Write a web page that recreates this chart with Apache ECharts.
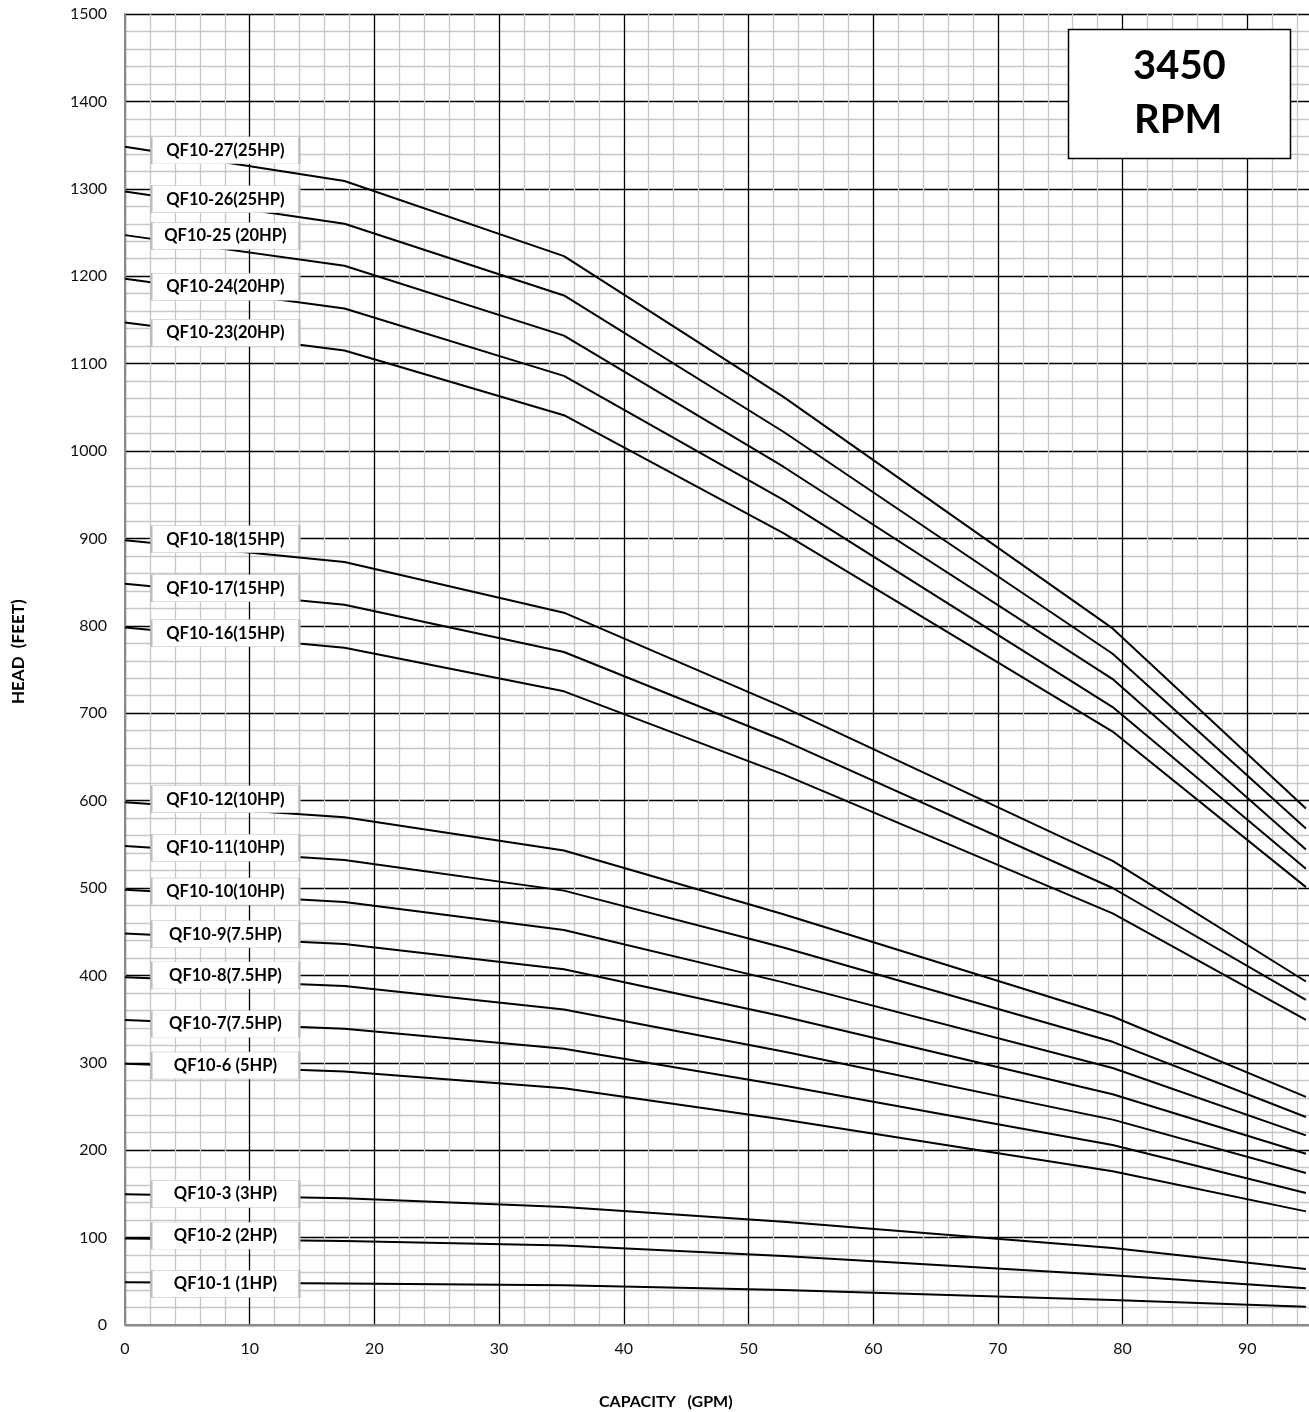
<!DOCTYPE html>
<html>
<head>
<meta charset="utf-8">
<script src="https://cdn.jsdelivr.net/npm/echarts@6/dist/echarts.min.js"></script>
<style>
html,body{margin:0;padding:0;background:#fff;overflow:hidden;width:1309px;height:1412px;}
#chart{width:1375px;height:1412px;}
</style>
</head>
<body>
<div id="chart"></div>
<script>
// ---------------- DATA ----------------
const capacityGPM = [0, 17.6, 35.2, 52.8, 79.2, 94.7];
const xTickLabels = [0, 10, 20, 30, 40, 50, 60, 70, 80, 90];
const yTickLabels = [0, 100, 200, 300, 400, 500, 600, 700, 800, 900, 1000, 1100, 1200, 1300, 1400, 1500];

const modelNames = [
  'QF10-27(25HP)', 'QF10-26(25HP)', 'QF10-25 (20HP)', 'QF10-24(20HP)', 'QF10-23(20HP)',
  'QF10-18(15HP)', 'QF10-17(15HP)', 'QF10-16(15HP)',
  'QF10-12(10HP)', 'QF10-11(10HP)', 'QF10-10(10HP)',
  'QF10-9(7.5HP)', 'QF10-8(7.5HP)', 'QF10-7(7.5HP)', 'QF10-6 (5HP)',
  'QF10-3 (3HP)', 'QF10-2 (2HP)', 'QF10-1 (1HP)'
];

const headQF10_27 = [1348, 1309, 1223, 1062, 797, 591];
const headQF10_26 = [1297, 1260, 1178, 1022, 768, 568];
const headQF10_25 = [1247, 1212, 1132, 982, 739, 544];
const headQF10_24 = [1197, 1163, 1086, 944, 707, 522];
const headQF10_23 = [1147, 1115, 1041, 906, 679, 501];
const headQF10_18 = [898, 873, 815, 707, 531, 393];
const headQF10_17 = [848, 824, 770, 669, 500, 372];
const headQF10_16 = [798, 775, 725, 630, 471, 349];
const headQF10_12 = [598, 581, 543, 470, 353, 261];
const headQF10_11 = [548, 532, 497, 432, 324, 238];
const headQF10_10 = [498, 484, 452, 392, 294, 217];
const headQF10_9  = [448, 436, 407, 353, 264, 196];
const headQF10_8  = [398, 388, 361, 313, 235, 174];
const headQF10_7  = [349, 339, 316, 274, 206, 151];
const headQF10_6  = [299, 290, 271, 235, 176, 130];
const headQF10_3  = [149.5, 145, 135, 118, 88, 64];
const headQF10_2  = [99, 96, 91, 79, 57, 42];
const headQF10_1  = [49, 47.5, 45.5, 40, 28.5, 21];

const heads = [headQF10_27, headQF10_26, headQF10_25, headQF10_24, headQF10_23,
  headQF10_18, headQF10_17, headQF10_16, headQF10_12, headQF10_11, headQF10_10,
  headQF10_9, headQF10_8, headQF10_7, headQF10_6, headQF10_3, headQF10_2, headQF10_1];

// ---------------- LAYOUT (label box anchors, in axis units) ----------------
const labelAnchorGPM = 8.05;
const labelAnchorHead = [1344, 1288, 1246, 1188, 1135, 899, 843, 791.5, 601.5, 546, 496, 447, 400, 344.5, 297, 149.7, 102, 47];

const FONT = 'Lato';

const series = modelNames.map((name, i) => ({
  name: name,
  type: 'line',
  data: capacityGPM.map((x, j) => [x, heads[i][j]]),
  showSymbol: false,
  symbol: 'none',
  lineStyle: { color: '#000', width: 2 },
  silent: true,
  animation: false,
  z: 3,
  markPoint: {
    silent: true,
    animation: false,
    symbol: 'rect',
    symbolSize: [148, 27],
    itemStyle: { color: '#fff', borderColor: '#bcbcbc', borderWidth: 1 },
    label: {
      show: true,
      position: 'inside',
      formatter: () => name,
      color: '#000',
      fontWeight: 'bold',
      fontSize: 16.5,
      fontFamily: FONT
    },
    data: [{ coord: [labelAnchorGPM, labelAnchorHead[i]] }]
  }
}));

const chart = echarts.init(document.getElementById('chart'), null, { renderer: 'canvas' });

chart.setOption({
  animation: false,
  backgroundColor: '#fff',
  grid: { left: 125, right: 0, top: 14, bottom: 87, containLabel: false },
  xAxis: {
    type: 'value',
    min: 0, max: 100, interval: 10,
    axisLine: { show: true, onZero: false, lineStyle: { color: '#8a8a8a', width: 2 } },
    axisTick: { show: false },
    axisLabel: {
      color: '#111', fontSize: 16, fontFamily: FONT, margin: 16,
      formatter: v => (xTickLabels.indexOf(v) >= 0 ? String(v) : '')
    },
    splitLine: { show: true, lineStyle: { color: '#000', width: 1.3 } },
    minorTick: { show: false, splitNumber: 5 },
    minorSplitLine: { show: true, lineStyle: { color: '#c6c6c6', width: 1.3 } }
  },
  yAxis: {
    type: 'value',
    min: 0, max: 1500, interval: 100,
    axisLine: { show: true, onZero: false, lineStyle: { color: '#8a8a8a', width: 2 } },
    axisTick: { show: false },
    axisLabel: {
      color: '#111', fontSize: 16, fontFamily: FONT, margin: 18,
      formatter: v => (yTickLabels.indexOf(v) >= 0 ? String(v) : '')
    },
    splitLine: { show: true, lineStyle: { color: '#000', width: 1.3 } },
    minorTick: { show: false, splitNumber: 5 },
    minorSplitLine: { show: true, lineStyle: { color: '#c6c6c6', width: 1.3 } }
  },
  graphic: [
    {
      type: 'rect', z: 100,
      shape: { x: 1068.5, y: 29.5, width: 222, height: 129 },
      style: { fill: '#fff', stroke: '#000', lineWidth: 1.5 }
    },
    {
      type: 'text', z: 101, left: 1133, top: 46,
      style: { text: '3450', fill: '#000', font: 'bold 40px ' + FONT, textAlign: 'left' }
    },
    {
      type: 'text', z: 101, left: 1134, top: 100,
      style: { text: 'RPM', fill: '#000', font: 'bold 40px ' + FONT, textAlign: 'left' }
    },
    {
      type: 'text', z: 101, left: 599, top: 1394,
      style: { text: 'CAPACITY   (GPM)', fill: '#000', font: 'bold 16px ' + FONT }
    },
    {
      type: 'text', z: 101, rotation: Math.PI / 2,
      x: 10, y: 704,
      style: { text: 'HEAD  (FEET)', fill: '#000', font: 'bold 17px ' + FONT }
    }
  ],
  series: series
});
</script>
</body>
</html>
